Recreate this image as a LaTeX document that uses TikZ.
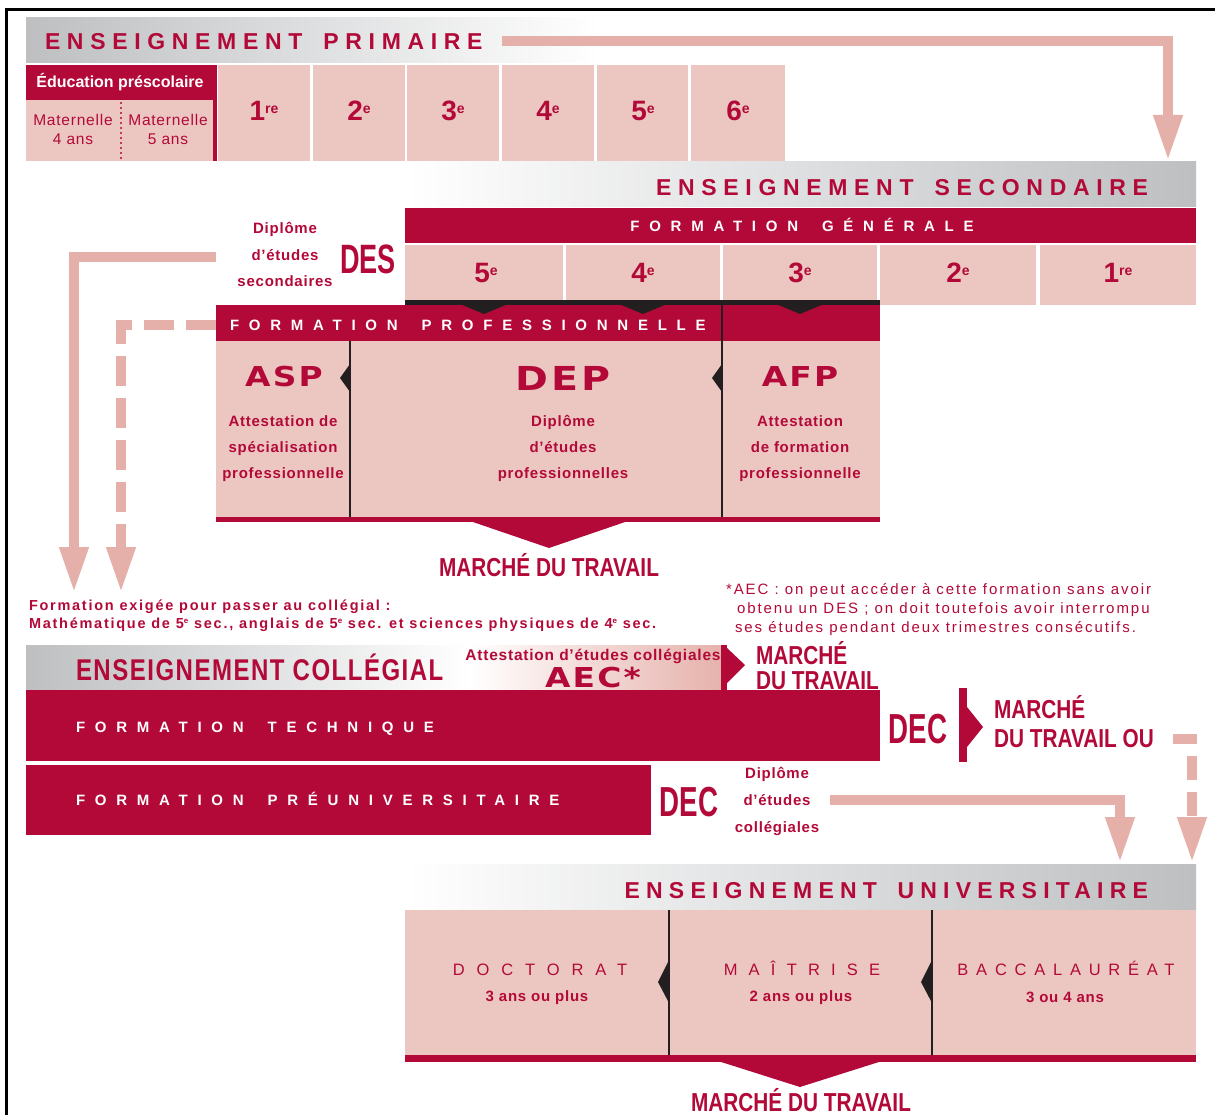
\documentclass[tikz,border=0pt]{standalone}
\usepackage{fontspec}
\setmainfont{Liberation Sans}
\newfontfamily\hdrfont[LetterSpace=29]{Liberation Sans}
\newfontfamily\bandfont[LetterSpace=65]{Liberation Sans}
\newfontfamily\lblfont[LetterSpace=5]{Liberation Sans}
\newfontfamily\condfont[FakeStretch=0.8]{Liberation Sans}
\newfontfamily\colfont[FakeStretch=0.8,LetterSpace=5]{Liberation Sans}
\newfontfamily\narrowfont[FakeStretch=0.66]{Liberation Sans}
\newfontfamily\heavyfont[FakeStretch=1.2,LetterSpace=8]{DejaVu Sans}
\newfontfamily\leftnotefont[LetterSpace=12]{Liberation Sans}
\newfontfamily\rightnotefont[LetterSpace=13]{Liberation Sans}
\usetikzlibrary{arrows.meta,fit}
\definecolor{crim}{RGB}{179,9,56}
\definecolor{pinkf}{RGB}{236,199,193}
\definecolor{arrowpink}{RGB}{229,176,170}
\definecolor{aecpink}{RGB}{230,178,172}
\definecolor{grayb}{RGB}{189,191,193}
\definecolor{darkline}{RGB}{35,31,32}
\newcommand\gradenum[2]{#1\raisebox{7.5pt}{\fontsize{14}{14}\selectfont #2}}
\newcommand\supe{\raisebox{4.5pt}{\fontsize{8}{8}\selectfont e}}
\newcommand\hgap{\hspace{8pt}}
\newcommand\bgap{\hspace{10pt}}
\begin{document}
\begin{tikzpicture}[x=1pt,y=-1pt,
  area/.style={inner sep=0pt, outer sep=0pt, draw=none},
  crimbox/.style={area, fill=crim},
  pinkbox/.style={area, fill=pinkf},
  blackbox/.style={area, fill=darkline},
  txt/.style={inner sep=0pt, outer sep=0pt, text=crim, anchor=base},
  hdrtxt/.style={txt, font=\hdrfont\bfseries\fontsize{23}{23}\selectfont},
  bandtxt/.style={txt, text=white, anchor=base west, font=\bandfont\bfseries\fontsize{15}{15}\selectfont},
  lbl/.style={txt, font=\lblfont\bfseries\fontsize{15}{15}\selectfont},
  mat/.style={txt, font=\lblfont\fontsize{15.5}{15.5}\selectfont},
  gradetxt/.style={txt, font=\bfseries\fontsize{28}{28}\selectfont},
  heavytxt/.style={txt, font=\heavyfont\bfseries\fontsize{27.4}{27.4}\selectfont},
  bigheavy/.style={txt, font=\heavyfont\bfseries\fontsize{33}{33}\selectfont},
  dectxt/.style={txt, font=\narrowfont\bfseries\fontsize{42}{42}\selectfont},
  marche/.style={txt, font=\condfont\bfseries\fontsize{26}{26}\selectfont},
  unitxt/.style={txt, font=\fontsize{16.5}{16.5}\selectfont},
  pinkarrow/.style={draw=arrowpink, line width=10pt, line join=miter, -{Triangle[length=46pt,width=27pt]}},
  dasharrow/.style={pinkarrow, dash pattern=on 30pt off 12pt},
  sepline/.style={draw=darkline, line width=2.5pt}
]
\useasboundingbox (0,0) rectangle (1215,1115);
% frame
\draw[line width=3pt, black] (6.5,1115) |- (1215,9.5);

% ===== PRIMAIRE =====
\node[fit={(26,18)(600,63)}, area, left color=grayb, right color=white] (hprim) {};
\node[hdrtxt, anchor=base west] (tprim) at (45,50) {ENSEIGNEMENT \hgap PRIMAIRE};
\node[fit={(26,65)(215,100)}, crimbox] (presc) {};
\node[txt, text=white, font=\bfseries\fontsize{16}{16}\selectfont] (tpresc) at (120,88) {Éducation préscolaire};
\node[fit={(26,100)(213,161)}, pinkbox] (matarea) {};
\node[fit={(213,65)(217,161)}, crimbox] (prescedge) {};
\draw[crim, line width=2.4pt, line cap=round, dash pattern=on 0pt off 5pt] (121,103) -- (121,161);
\node[mat] (m4a) at (73,126) {Maternelle};
\node[mat] (m4b) at (73,145) {4 ans};
\node[mat] (m5a) at (168,126) {Maternelle};
\node[mat] (m5b) at (168,145) {5 ans};
\node[fit={(218,65)(310,161)}, pinkbox] (p1) {};
\node[fit={(313,65)(405,161)}, pinkbox] (p2) {};
\node[fit={(407,65)(499,161)}, pinkbox] (p3) {};
\node[fit={(502,65)(594,161)}, pinkbox] (p4) {};
\node[fit={(597,65)(688,161)}, pinkbox] (p5) {};
\node[fit={(691,65)(785,161)}, pinkbox] (p6) {};
\node[gradetxt] (tp1) at (264,121) {\gradenum{1}{re}};
\node[gradetxt] (tp2) at (359,121) {\gradenum{2}{e}};
\node[gradetxt] (tp3) at (453,121) {\gradenum{3}{e}};
\node[gradetxt] (tp4) at (548,121) {\gradenum{4}{e}};
\node[gradetxt] (tp5) at (643,121) {\gradenum{5}{e}};
\node[gradetxt] (tp6) at (738,121) {\gradenum{6}{e}};

% ===== SECONDAIRE =====
\node[fit={(405,162)(1196,207)}, area, left color=white, right color=grayb] (hsec) {};
\node[hdrtxt, anchor=base east] (tsec) at (1148,196) {ENSEIGNEMENT \hgap SECONDAIRE};
\node[fit={(405,208)(1196,243)}, crimbox] (fg) {};
\node[bandtxt, anchor=base] (tfg) at (802,232) {FORMATION \bgap GÉNÉRALE};
\node[fit={(405,245)(563,300)}, pinkbox] (s5) {};
\node[fit={(566,245)(720,300)}, pinkbox] (s4) {};
\node[fit={(723,245)(877,300)}, pinkbox] (s3) {};
\node[fit={(880,245)(1036,305)}, pinkbox] (s2) {};
\node[fit={(1040,245)(1196,305)}, pinkbox] (s1) {};
\node[gradetxt] (ts5) at (486,283) {\gradenum{5}{e}};
\node[gradetxt] (ts4) at (643,283) {\gradenum{4}{e}};
\node[gradetxt] (ts3) at (800,283) {\gradenum{3}{e}};
\node[gradetxt] (ts2) at (958,283) {\gradenum{2}{e}};
\node[gradetxt] (ts1) at (1118,283) {\gradenum{1}{re}};
\node[lbl] (des1) at (285,234) {Diplôme};
\node[lbl] (des2) at (285,261) {d’études};
\node[lbl] (des3) at (285,287) {secondaires};
\node[dectxt, font=\narrowfont\bfseries\fontsize{41}{41}\selectfont] (des) at (368,273) {DES};

% ===== PROFESSIONNELLE =====
\node[fit={(216,305)(880,341)}, crimbox] (fp) {};
\node[fit={(405,300)(880,305)}, blackbox] (bbar) {};
\foreach \x in {484,643,800} \fill[darkline] (\x-24,304) -- (\x+24,304) -- (\x,314) -- cycle;
\node[bandtxt] (tfp) at (230,330) {FORMATION \bgap PROFESSIONNELLE};
\node[fit={(216,341)(880,517)}, pinkbox] (proarea) {};
\node[fit={(216,517)(880,522)}, crimbox] (probot) {};
\fill[crim] (470,521) -- (628,521) -- (549,548) -- cycle;
\draw[sepline] (350,341) -- (350,517);
\draw[sepline] (722,305) -- (722,517);
\fill[darkline] (350,364) -- (340,378) -- (350,392) -- cycle;
\fill[darkline] (722,364) -- (712,378) -- (722,392) -- cycle;
\node[heavytxt] (asp) at (284,386) {ASP};
\node[bigheavy] (dep) at (563,390) {DEP};
\node[heavytxt] (afp) at (800,386) {AFP};
\node[lbl] (asp1) at (283,426) {Attestation de};
\node[lbl] (asp2) at (283,452) {spécialisation};
\node[lbl] (asp3) at (283,478) {professionnelle};
\node[lbl] (dep1) at (563,426) {Diplôme};
\node[lbl] (dep2) at (563,452) {d’études};
\node[lbl] (dep3) at (563,478) {professionnelles};
\node[lbl] (afp1) at (800,426) {Attestation};
\node[lbl] (afp2) at (800,452) {de formation};
\node[lbl] (afp3) at (800,478) {professionnelle};
\node[marche] (mt1) at (549,576) {MARCHÉ DU TRAVAIL};

% left arrows
\coordinate (la1) at (216,257);
\coordinate (la1e) at (74,593);
\draw[pinkarrow] (la1) -| (la1e);
\coordinate (la2) at (216,325);
\coordinate (la2e) at (121,593);
\draw[dasharrow] (la2) -| (la2e);

% notes
\node[txt, anchor=base west, font=\leftnotefont\bfseries\fontsize{14.5}{14.5}\selectfont] (fn1) at (29,610) {Formation exigée pour passer au collégial :};
\node[txt, anchor=base west, font=\leftnotefont\bfseries\fontsize{14.5}{14.5}\selectfont] (fn2) at (29,628) {Mathématique de 5\supe{} sec., anglais de 5\supe{} sec. et sciences physiques de 4\supe{} sec.};
\node[txt, anchor=base west, font=\rightnotefont\fontsize{15}{15}\selectfont] (rn1) at (726,594) {*AEC : on peut accéder à cette formation sans avoir};
\node[txt, anchor=base west, font=\rightnotefont\fontsize{15}{15}\selectfont] (rn2) at (737,613) {obtenu un DES ; on doit toutefois avoir interrompu};
\node[txt, anchor=base west, font=\rightnotefont\fontsize{15}{15}\selectfont] (rn3) at (735,632) {ses études pendant deux trimestres consécutifs.};

% top arrow
\coordinate (ta) at (502,41);
\coordinate (tae) at (1168,161);
\draw[pinkarrow] (ta) -| (tae);

% ===== COLLEGIAL =====
\node[fit={(26,645)(470,690)}, area, left color=grayb, right color=white] (hcol) {};
\node[fit={(470,645)(721,690)}, area, left color=white, right color=aecpink] (haec) {};
\node[txt, anchor=base west, font=\colfont\bfseries\fontsize{30}{30}\selectfont] (tcol) at (76,680) {ENSEIGNEMENT COLLÉGIAL};
\node[lbl, font=\lblfont\bfseries\fontsize{15.5}{15.5}\selectfont] (aec1) at (593,660) {Attestation d’études collégiales};
\node[heavytxt] (aec) at (593,687) {AEC*};
\node[fit={(721,645)(727,690)}, crimbox] (aecbar) {};
\fill[crim] (727,648) -- (745,665) -- (727,683) -- cycle;
\node[marche, anchor=base west] (mt2a) at (756,664) {MARCHÉ};
\node[marche, anchor=base west] (mt2b) at (756,689) {DU TRAVAIL};

\node[fit={(26,690)(880,761)}, crimbox] (ft) {};
\node[bandtxt] (tft) at (76,732) {FORMATION \bgap TECHNIQUE};
\node[dectxt] (dec1) at (918,743) {DEC};
\node[fit={(959,688)(967,762)}, crimbox] (decbar) {};
\fill[crim] (967,707) -- (983,727) -- (967,747) -- cycle;
\node[marche, anchor=base west] (mt3a) at (994,718) {MARCHÉ};
\node[marche, anchor=base west] (mt3b) at (994,747) {DU TRAVAIL OU};

\node[fit={(26,765)(651,835)}, crimbox] (fpu) {};
\node[bandtxt] (tfpu) at (76,805) {FORMATION \bgap PRÉUNIVERSITAIRE};
\node[dectxt] (dec2) at (689,816) {DEC};
\node[lbl] (dcl1) at (777,778) {Diplôme};
\node[lbl] (dcl2) at (777,805) {d’études};
\node[lbl] (dcl3) at (777,832) {collégiales};

% right arrows
\coordinate (ra1) at (830,800);
\coordinate (ra1e) at (1120,863);
\draw[pinkarrow] (ra1) -| (ra1e);
\coordinate (ra2) at (1173,739);
\coordinate (ra2e) at (1192,863);
\draw[pinkarrow, dash pattern=on 24pt off 12pt] (ra2) -| (ra2e);

% ===== UNIVERSITAIRE =====
\node[fit={(405,864)(1196,909)}, area, left color=white, right color=grayb] (huniv) {};
\node[hdrtxt, anchor=base east, font=\hdrfont\bfseries\fontsize{23}{23}\selectfont\addfontfeatures{LetterSpace=27}] (tuniv) at (1148,898) {ENSEIGNEMENT \hgap UNIVERSITAIRE};
\node[fit={(405,910)(1196,1055)}, pinkbox] (univarea) {};
\node[fit={(405,1055)(1196,1062)}, crimbox] (univbot) {};
\fill[crim] (718,1061) -- (882,1061) -- (800,1087) -- cycle;
\draw[sepline] (669,910) -- (669,1055);
\draw[sepline] (932,910) -- (932,1055);
\fill[darkline] (669,960) -- (658,982) -- (669,1003) -- cycle;
\fill[darkline] (932,960) -- (921,982) -- (932,1003) -- cycle;
\node[unitxt, font=\fontsize{16.5}{16.5}\selectfont\addfontfeatures{LetterSpace=72}] (doc) at (540,975) {DOCTORAT};
\node[unitxt, font=\fontsize{16.5}{16.5}\selectfont\addfontfeatures{LetterSpace=68}] (mai) at (802,975) {MAÎTRISE};
\node[unitxt, font=\fontsize{16.5}{16.5}\selectfont\addfontfeatures{LetterSpace=47}] (bac) at (1066,975) {BACCALAURÉAT};
\node[lbl] (doc2) at (537,1001) {3 ans ou plus};
\node[lbl] (mai2) at (801,1001) {2 ans ou plus};
\node[lbl] (bac2) at (1065,1002) {3 ou 4 ans};
\node[marche] (mt4) at (801,1111) {MARCHÉ DU TRAVAIL};
\end{tikzpicture}
\end{document}
